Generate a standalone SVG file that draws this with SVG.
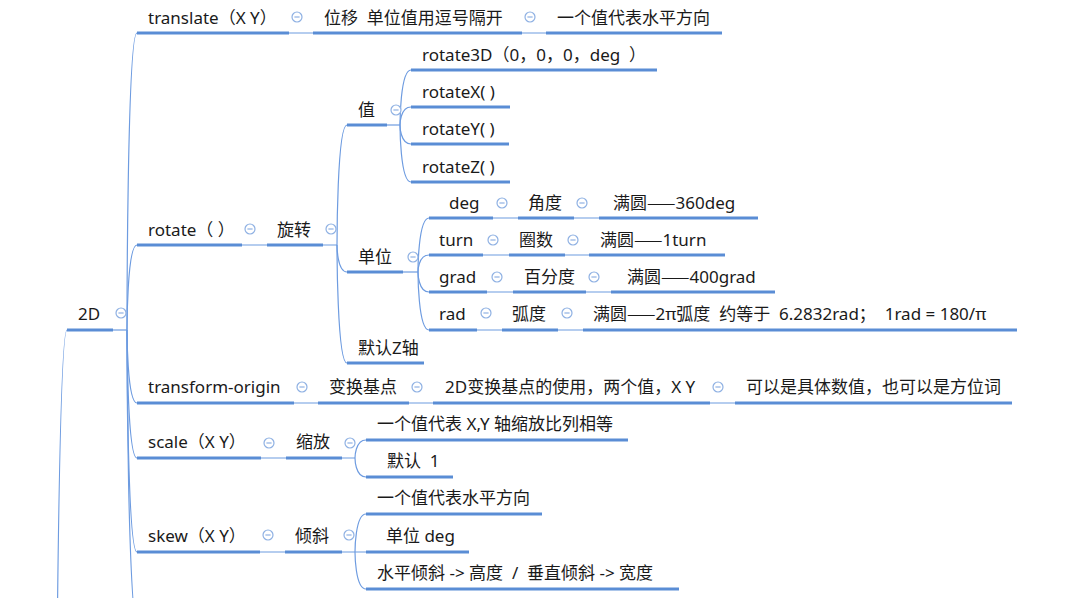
<svg xmlns="http://www.w3.org/2000/svg" xmlns:xlink="http://www.w3.org/1999/xlink" width="1091" height="598" viewBox="0 0 1091 598">
<style>
text{font-family:"Noto Sans","Noto Sans CJK SC",sans-serif;font-size:17px;fill:#1a1a1a;white-space:pre}
.cjk{font-family:"Noto Sans CJK SC",sans-serif}
.u{stroke:#5a8dd5;stroke-width:3;fill:none}
.c{stroke:#6d9be0;stroke-width:1.2;fill:none}
</style>
<defs>
<g id="btn"><circle cx="0" cy="0" r="5" fill="#fff" stroke="#8fb1e3" stroke-width="1.2"/><line x1="-2.6" y1="0" x2="2.6" y2="0" stroke="#8fb1e3" stroke-width="1.2"/></g>
</defs>
<rect width="1091" height="598" fill="#fff"/>
<g id="connectors">
<path class="c" d="M55,1100 C55,1100 55,330 67,330"/>
<path class="c" d="M113,330 H127"/>
<path class="c" d="M127,330 C127,330 127,33 137,33"/>
<path class="c" d="M127,330 C127,330 127,245 137,245"/>
<path class="c" d="M127,330 C127,330 127,403 137,403"/>
<path class="c" d="M127,330 C127,330 127,458 137,458"/>
<path class="c" d="M127,330 C127,330 127,552 137,552"/>
<path class="c" d="M127,330 C127,330 127,640 140,640"/>
<path class="c" d="M289,33 H313 M522,33 H546"/>
<path class="c" d="M242,245 H267 M323,245 H337"/>
<path class="c" d="M337,245 C337,245 337,125 347,125"/>
<path class="c" d="M337,245 C337,245 337,272 347,272"/>
<path class="c" d="M337,245 C337,245 337,363 347,363"/>
<path class="c" d="M387,125 H400"/>
<path class="c" d="M400,125 C400,125 400,70 411,70"/>
<path class="c" d="M400,125 C400,125 400,107 411,107"/>
<path class="c" d="M400,125 C400,125 400,144 411,144"/>
<path class="c" d="M400,125 C400,125 400,182 411,182"/>
<path class="c" d="M403,272 H418"/>
<path class="c" d="M418,272 C418,272 418,218 429,218"/>
<path class="c" d="M418,272 C418,272 418,255 429,255"/>
<path class="c" d="M418,272 C418,272 418,292 429,292"/>
<path class="c" d="M418,272 C418,272 418,330 429,330"/>
<path class="c" d="M493,218 H518 M574,218 H599"/>
<path class="c" d="M483,255 H509 M565,255 H589"/>
<path class="c" d="M487,292 H513 M586,292 H611"/>
<path class="c" d="M477,330 H502 M558,330 H583"/>
<path class="c" d="M294,403 H318 M409,403 H433 M710,403 H735"/>
<path class="c" d="M261,458 H286 M342,458 H355"/>
<path class="c" d="M355,458 C355,458 355,440 366,440"/>
<path class="c" d="M355,458 C355,458 355,477 366,477"/>
<path class="c" d="M260,552 H285 M342,552 H366"/>
<path class="c" d="M355,552 C355,552 355,514 366,514"/>
<path class="c" d="M355,552 C355,552 355,589 366,589"/>
</g>
<g id="n-2d"><text x="78" y="320">2D</text><path class="u" d="M67,330 H113"/><use xlink:href="#btn" x="121" y="313"/></g>
<g id="n-translate"><text x="148" y="24">translate（X Y）</text><path class="u" d="M137,33 H289"/><use xlink:href="#btn" x="297" y="17"/></g>
<g id="n-weiyi"><text x="324" y="24">位移  单位值用逗号隔开</text><path class="u" d="M313,33 H522"/><use xlink:href="#btn" x="530" y="17"/></g>
<g id="n-translate-h"><text x="557" y="24">一个值代表水平方向</text><path class="u" d="M546,33 H722"/></g>
<g id="n-rotate"><text x="148" y="236">rotate（ ）</text><path class="u" d="M137,245 H242"/><use xlink:href="#btn" x="250" y="229"/></g>
<g id="n-xuanzhuan"><text x="277" y="236">旋转</text><path class="u" d="M267,245 H323"/><use xlink:href="#btn" x="331" y="229"/></g>
<g id="n-zhi"><text x="358" y="116">值</text><path class="u" d="M347,125 H387"/><use xlink:href="#btn" x="396" y="110"/></g>
<g id="n-r3d"><text x="422" y="61">rotate3D（0，0，0，deg  ）</text><path class="u" d="M411,70 H657"/></g>
<g id="n-rx"><text x="422" y="98">rotateX( )</text><path class="u" d="M411,107 H510"/></g>
<g id="n-ry"><text x="422" y="135">rotateY( )</text><path class="u" d="M411,144 H509"/></g>
<g id="n-rz"><text x="422" y="173">rotateZ( )</text><path class="u" d="M411,182 H510"/></g>
<g id="n-danwei"><text x="358" y="263">单位</text><path class="u" d="M347,272 H403"/><use xlink:href="#btn" x="413" y="257"/></g>
<g id="n-deg"><text x="449" y="209">deg</text><path class="u" d="M429,218 H493"/><use xlink:href="#btn" x="502" y="203"/></g>
<g id="n-jiaodu"><text x="528" y="209">角度</text><path class="u" d="M518,218 H574"/><use xlink:href="#btn" x="582" y="203"/></g>
<g id="n-deg360"><text x="613" y="209">满圆<tspan class="cjk">——</tspan>360deg</text><path class="u" d="M599,218 H758"/></g>
<g id="n-turn"><text x="439" y="246">turn</text><path class="u" d="M429,255 H483"/><use xlink:href="#btn" x="493" y="240"/></g>
<g id="n-quanshu"><text x="519" y="246">圈数</text><path class="u" d="M509,255 H565"/><use xlink:href="#btn" x="573" y="240"/></g>
<g id="n-turn1"><text x="600" y="246">满圆<tspan class="cjk">——</tspan>1turn</text><path class="u" d="M589,255 H725"/></g>
<g id="n-grad"><text x="439" y="283">grad</text><path class="u" d="M429,292 H487"/><use xlink:href="#btn" x="497" y="277"/></g>
<g id="n-baifendu"><text x="524" y="283">百分度</text><path class="u" d="M513,292 H586"/><use xlink:href="#btn" x="594" y="277"/></g>
<g id="n-grad400"><text x="627" y="283">满圆<tspan class="cjk">——</tspan>400grad</text><path class="u" d="M611,292 H775"/></g>
<g id="n-rad"><text x="439" y="320">rad</text><path class="u" d="M429,330 H477"/><use xlink:href="#btn" x="486" y="313"/></g>
<g id="n-hudu"><text x="512" y="320">弧度</text><path class="u" d="M502,330 H558"/><use xlink:href="#btn" x="567" y="313"/></g>
<g id="n-radfull"><text x="593" y="320">满圆<tspan class="cjk">——</tspan>2π弧度  约等于  6.2832rad；  1rad = 180/π</text><path class="u" d="M583,330 H1017"/></g>
<g id="n-morenz"><text x="358" y="354">默认Z轴</text><path class="u" d="M347,363 H424"/></g>
<g id="n-torigin"><text x="148" y="393">transform-origin</text><path class="u" d="M137,403 H294"/><use xlink:href="#btn" x="302" y="387"/></g>
<g id="n-jidian"><text x="329" y="393">变换基点</text><path class="u" d="M318,403 H409"/><use xlink:href="#btn" x="417" y="387"/></g>
<g id="n-jidian2"><text x="445" y="393">2D变换基点的使用，两个值，X Y</text><path class="u" d="M433,403 H710"/><use xlink:href="#btn" x="718" y="387"/></g>
<g id="n-fangwei"><text x="746" y="393">可以是具体数值，也可以是方位词</text><path class="u" d="M735,403 H1012"/></g>
<g id="n-scale"><text x="148" y="448">scale（X Y）</text><path class="u" d="M137,458 H261"/><use xlink:href="#btn" x="269" y="443"/></g>
<g id="n-suofang"><text x="296" y="448">缩放</text><path class="u" d="M286,458 H342"/><use xlink:href="#btn" x="350" y="443"/></g>
<g id="n-s1"><text x="377" y="430">一个值代表 X,Y 轴缩放比列相等</text><path class="u" d="M366,440 H628"/></g>
<g id="n-s2"><text x="387" y="467">默认  1</text><path class="u" d="M366,477 H453"/></g>
<g id="n-skew"><text x="148" y="542">skew（X Y）</text><path class="u" d="M137,552 H260"/><use xlink:href="#btn" x="268" y="535"/></g>
<g id="n-qingxie"><text x="295" y="542">倾斜</text><path class="u" d="M285,552 H342"/><use xlink:href="#btn" x="349" y="535"/></g>
<g id="n-k1"><text x="377" y="504">一个值代表水平方向</text><path class="u" d="M366,514 H542"/></g>
<g id="n-k2"><text x="386" y="542">单位 deg</text><path class="u" d="M366,552 H469"/></g>
<g id="n-k3"><text x="377" y="579">水平倾斜 -&gt; 高度  /  垂直倾斜 -&gt; 宽度</text><path class="u" d="M366,589 H679"/></g>
</svg>
